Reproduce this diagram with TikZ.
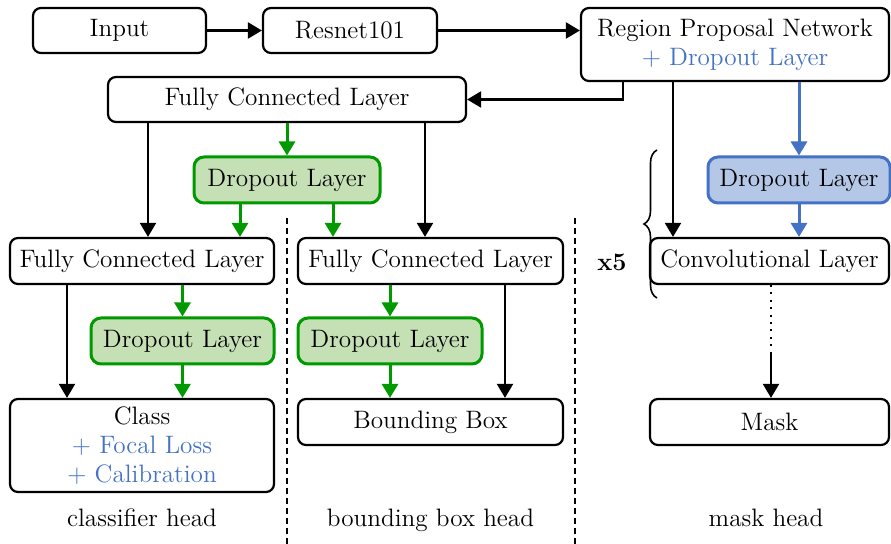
\documentclass[tikz,border=0pt]{standalone}
\usetikzlibrary{arrows.meta,decorations.pathreplacing}
\definecolor{dgreen}{RGB}{0,153,0}
\definecolor{lgreen}{RGB}{197,224,180}
\definecolor{mblue}{RGB}{68,114,196}
\definecolor{lblue}{RGB}{180,199,231}
\begin{document}
\begin{tikzpicture}[x=0.5pt,y=-0.5pt,
  bw/.style={minimum width=#1*0.5pt},
  bh/.style={minimum height=#1*0.5pt},
  txt/.style={font=\fontsize{12.6}{14.5}\selectfont},
  box/.style={draw, line width=1.1pt, rounded corners=4pt, txt, inner sep=0pt, align=center},
  gbox/.style={box, line width=1.5pt, rounded corners=5pt, draw=dgreen, fill=lgreen},
  bbox/.style={box, line width=1.5pt, rounded corners=5pt, draw=mblue, fill=lblue},
  arr/.style={line width=1.1pt, -{Triangle[width=8pt,length=7pt]}},
  garr/.style={arr, line width=1.5pt, draw=dgreen, fill=dgreen},
  barr/.style={arr, line width=1.5pt, draw=mblue, fill=mblue},
  sep/.style={line width=1pt, dash pattern=on 3pt off 2pt},
  lbl/.style={txt, inner sep=0pt, anchor=base}]
\useasboundingbox (0,0) rectangle (891,544);

% backbone
\node[box, bw=173, bh=45] (input) at (119.5,30.5) {Input};
\node[box, bw=174, bh=45] (resnet) at (350,30.5) {Resnet101};
\node[box, bw=308, bh=73] (rpn) at (735,44.5) {Region Proposal Network\\\textcolor{mblue}{+ Dropout Layer}};
\node[box, bw=358, bh=45] (fctop) at (287,99.5) {Fully Connected Layer};
\node[gbox, bw=186, bh=46] (dtop) at (287,180) {Dropout Layer};

% classifier head
\node[box, bw=264, bh=46] (fcl) at (142,261) {Fully Connected Layer};
\node[gbox, bw=183, bh=46] (dl) at (182.5,341) {Dropout Layer};
\node[box, bw=264, bh=93] (cls) at (142,445.5) {Class\\\textcolor{mblue}{+ Focal Loss}\\\textcolor{mblue}{+ Calibration}};

% bounding box head
\node[box, bw=265, bh=46] (fcm) at (430.5,261) {Fully Connected Layer};
\node[gbox, bw=184, bh=46] (dm) at (390,341) {Dropout Layer};
\node[box, bw=265, bh=46] (bb) at (430.5,422) {Bounding Box};

% mask head
\node[bbox, bw=182, bh=46] (dblue) at (799,180) {Dropout Layer};
\node[box, bw=239, bh=46] (conv) at (769.5,261) {Convolutional Layer};
\node[box, bw=239, bh=46] (mask) at (769.5,422) {Mask};

% head captions
\node[lbl] (capc) at (142,527) {classifier head};
\node[lbl] (capb) at (430.5,527) {bounding box head};
\node[lbl] (capm) at (766,527) {mask head};

% separators
\coordinate (s1t) at (287,218); \coordinate (s1b) at (287,544);
\coordinate (s2t) at (575,218); \coordinate (s2b) at (575,544);
\draw[sep] (s1t) -- (s1b);
\draw[sep] (s2t) -- (s2b);

% backbone connectors
\draw[arr] (input.east) -- (resnet.west);
\draw[arr] (resnet.east) -- (resnet.east -| rpn.west);
\draw[arr] (rpn.south -| 623,0) |- (fctop.east);
\draw[arr] (rpn.south -| 673,0) -- (conv.north -| 673,0);
\draw[barr] (rpn.south -| dblue.north) -- (dblue.north);
\draw[barr] (dblue.south) -- (conv.north -| dblue.south);

% shared fully connected layer
\draw[garr] (fctop.south) -- (dtop.north);
\draw[arr] (fctop.south -| 148,0) -- (fcl.north -| 148,0);
\draw[arr] (fctop.south -| 425,0) -- (fcm.north -| 425,0);
\draw[garr] (dtop.south -| 240,0) -- (fcl.north -| 240,0);
\draw[garr] (dtop.south -| 333,0) -- (fcm.north -| 333,0);

% classifier head connectors
\draw[arr] (fcl.south -| 67,0) -- (cls.north -| 67,0);
\draw[garr] (fcl.south -| dl.north) -- (dl.north);
\draw[garr] (dl.south) -- (cls.north -| dl.south);

% bounding box head connectors
\draw[garr] (fcm.south -| dm.north) -- (dm.north);
\draw[garr] (dm.south) -- (bb.north -| dm.south);
\draw[arr] (fcm.south -| 505,0) -- (bb.north -| 505,0);

% mask head connectors
\coordinate (dotend) at (771,352);
\draw[line width=1pt, dash pattern=on 1pt off 2.7pt] (conv.south -| dotend) -- (dotend);
\draw[arr] (dotend) -- (mask.north -| dotend);

% repetition brace
\coordinate (brt) at (657,150);
\coordinate (brb) at (657,298);
\draw[line width=0.8pt, decorate, decoration={brace, amplitude=6.5pt}] (brb) -- (brt);
\node[font=\fontsize{12.6}{14.5}\selectfont\bfseries, inner sep=0pt] (rep) at (612,262) {x5};
\end{tikzpicture}
\end{document}
